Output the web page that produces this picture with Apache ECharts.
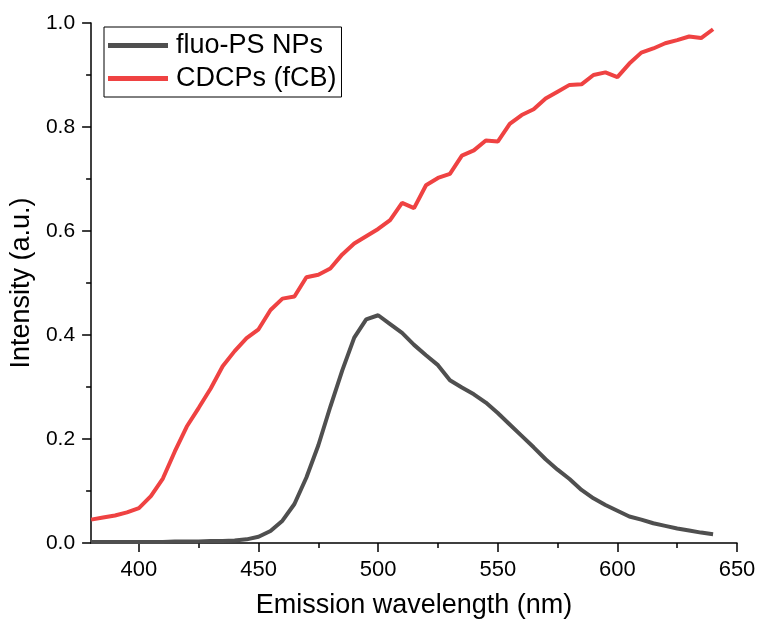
<!DOCTYPE html>
<html>
<head>
<meta charset="utf-8">
<script src="https://cdn.jsdelivr.net/npm/echarts@6/dist/echarts.min.js"></script>
<style>
  html, body { margin: 0; padding: 0; background: #fff; }
  #chart { width: 759px; height: 624px; }
</style>
</head>
<body>
<div id="chart"></div>
<script>
// emission wavelength (nm)
const wavelengths = [380, 385, 390, 395, 400, 405, 410, 415, 420, 425, 430, 435, 440, 445, 450,
  455, 460, 465, 470, 475, 480, 485, 490, 495, 500, 505, 510, 515, 520, 525, 530, 535, 540, 545,
  550, 555, 560, 565, 570, 575, 580, 585, 590, 595, 600, 605, 610, 615, 620, 625, 630, 635, 640];

// intensity (a.u.)
const fluoPS = [0.002, 0.002, 0.002, 0.002, 0.002, 0.002, 0.002, 0.003, 0.003, 0.003, 0.004, 0.004,
  0.005, 0.007, 0.012, 0.023, 0.043, 0.075, 0.126, 0.188, 0.262, 0.332, 0.395, 0.430, 0.438, 0.421,
  0.404, 0.381, 0.361, 0.342, 0.313, 0.299, 0.286, 0.270, 0.250, 0.228, 0.206, 0.184, 0.161, 0.141,
  0.123, 0.102, 0.086, 0.073, 0.062, 0.051, 0.045, 0.038, 0.033, 0.028, 0.024, 0.020, 0.017];

const cdcps = [0.045, 0.049, 0.053, 0.059, 0.067, 0.090, 0.124, 0.176, 0.224, 0.260, 0.297, 0.340,
  0.369, 0.394, 0.411, 0.448, 0.470, 0.474, 0.511, 0.516, 0.528, 0.555, 0.576, 0.590, 0.604, 0.621,
  0.654, 0.644, 0.688, 0.702, 0.710, 0.745, 0.755, 0.774, 0.772, 0.806, 0.823, 0.834, 0.855, 0.868,
  0.881, 0.882, 0.900, 0.905, 0.896, 0.922, 0.943, 0.951, 0.961, 0.967, 0.974, 0.971, 0.988];

const xMajorTicks = [400, 450, 500, 550, 600, 650];
const xMinorTicks = [425, 475, 525, 575, 625];

const font = "'Liberation Sans', Arial, sans-serif";

const chart = echarts.init(document.getElementById("chart"));

const option = {
  animation: false,
  textStyle: { fontFamily: font },
  grid: { left: 90, right: 22, top: 23, bottom: 80 },
  legend: {
    orient: "vertical",
    left: 104,
    top: 27,
    padding: [5, 5, 5, 4],
    itemGap: 6,
    itemWidth: 60,
    itemHeight: 5,
    icon: "rect",
    borderColor: "#000",
    borderWidth: 1,
    textStyle: { fontSize: 27, color: "#000", fontFamily: font, padding: [0, 0, 0, 3] },
    data: ["fluo-PS NPs", "CDCPs (fCB)"]
  },
  xAxis: [
    {
      type: "value",
      min: 380,
      max: 650,
      name: "Emission wavelength (nm)",
      nameLocation: "middle",
      nameGap: 49,
      nameTextStyle: { fontSize: 27, color: "#000", fontFamily: font },
      axisLine: { lineStyle: { color: "#000", width: 1.5 } },
      axisTick: { customValues: xMajorTicks, length: 9, lineStyle: { color: "#000", width: 1.5 } },
      axisLabel: { customValues: xMajorTicks, fontSize: 22, color: "#000", margin: 16, fontFamily: font },
      splitLine: { show: false }
    },
    {
      // minor ticks only
      type: "value",
      min: 380,
      max: 650,
      position: "bottom",
      axisLine: { show: false },
      axisTick: { customValues: xMinorTicks, length: 5, lineStyle: { color: "#000", width: 1.5 } },
      axisLabel: { show: false },
      splitLine: { show: false }
    }
  ],
  yAxis: {
    type: "value",
    min: 0,
    max: 1,
    interval: 0.2,
    name: "Intensity (a.u.)",
    nameLocation: "middle",
    nameGap: 54,
    nameTextStyle: { fontSize: 27, color: "#000", fontFamily: font },
    axisLine: { show: true, lineStyle: { color: "#000", width: 1.5 } },
    axisTick: { show: true, length: 9, lineStyle: { color: "#000", width: 1.5 } },
    minorTick: { show: true, splitNumber: 2, length: 5, lineStyle: { color: "#000", width: 1.5 } },
    axisLabel: {
      fontSize: 21,
      color: "#000",
      margin: 16,
      fontFamily: font,
      formatter: v => v.toFixed(1)
    },
    splitLine: { show: false }
  },
  series: [
    {
      name: "fluo-PS NPs",
      type: "line",
      data: wavelengths.map((w, i) => [w, fluoPS[i]]),
      showSymbol: false,
      itemStyle: { color: "#4f4f4f" },
      lineStyle: { color: "#4f4f4f", width: 4 }
    },
    {
      name: "CDCPs (fCB)",
      type: "line",
      data: wavelengths.map((w, i) => [w, cdcps[i]]),
      showSymbol: false,
      itemStyle: { color: "#ef4242" },
      lineStyle: { color: "#ef4242", width: 4 }
    }
  ]
};

chart.setOption(option);
window.addEventListener("resize", () => chart.resize(), false);
</script>
</body>
</html>
